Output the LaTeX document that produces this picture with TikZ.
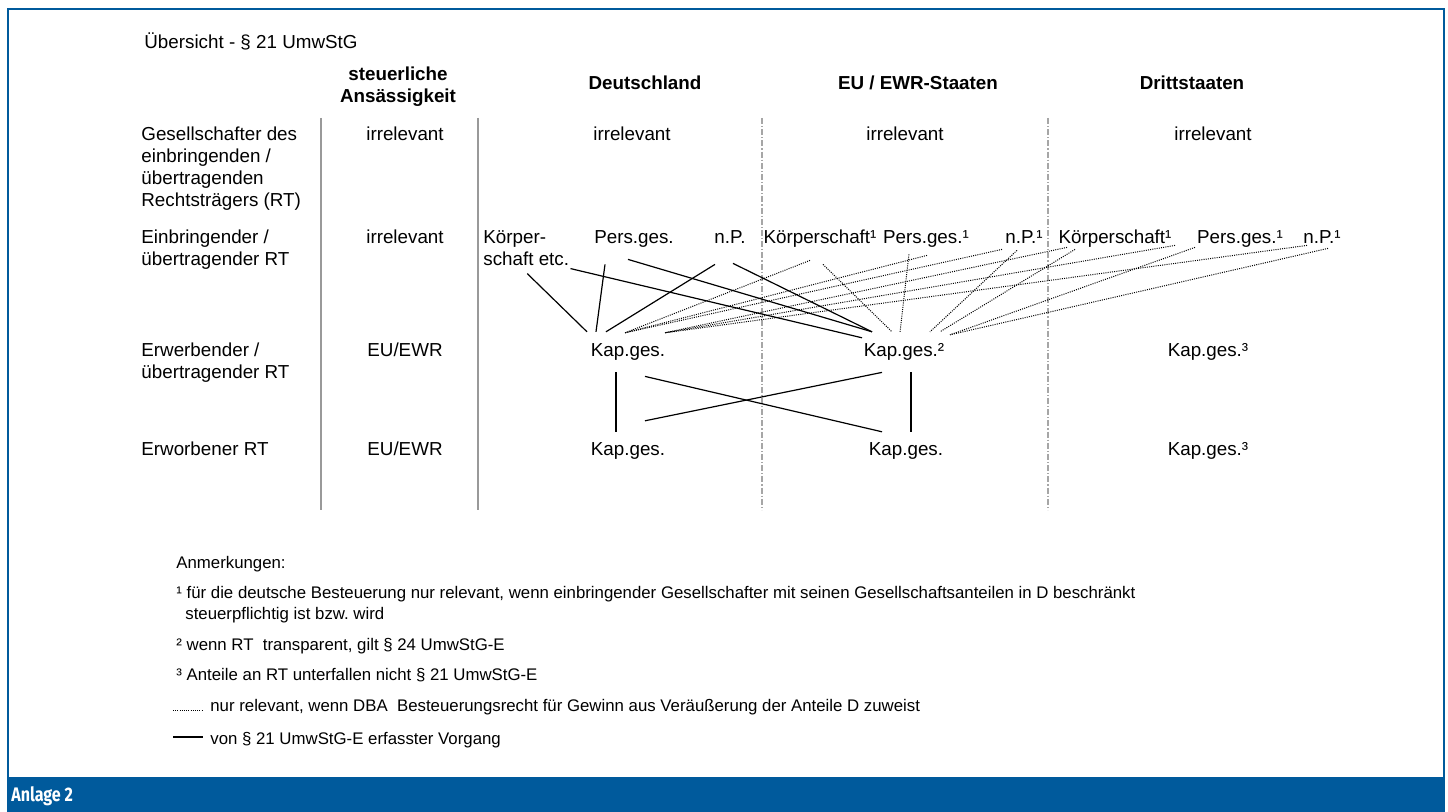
\documentclass[tikz,border=0pt]{standalone}
\usepackage{fontspec}
\setmainfont{Liberation Sans}
\newfontfamily\anlagefont[FakeStretch=0.82]{Fira Sans}
\usetikzlibrary{calc}
\definecolor{anlageblau}{RGB}{0,90,156}
\frenchspacing
\begin{document}
\begin{tikzpicture}[x=0.5pt,y=-0.5pt,font=\fontsize{9.4}{11}\selectfont,
  cell/.style={inner sep=0pt,text height=6.9pt,text depth=2pt,anchor=base},
  zeile/.style={inner sep=0pt,anchor=base west,align=left},
  kopf/.style={inner sep=0pt,anchor=base,align=center,font=\fontsize{9.4}{11}\selectfont\bfseries},
  fuss/.style={inner sep=0pt,anchor=base west,align=left,font=\fontsize{8.4}{10.5}\selectfont},
  erfasst/.style={line width=0.6pt},
  dba/.style={line width=0.5pt,dash pattern=on 0.5pt off 0.6pt},
  trenn/.style={black!40,line width=1pt},
  staat/.style={black!35,line width=0.6pt,dash pattern=on 3pt off 1pt on 0.6pt off 1pt}]
\useasboundingbox (0,0) rectangle (1448,812);
% Rahmen
\fill[anlageblau] (7,777) rectangle (1445,812);
\draw[anlageblau,line width=1pt] (8,812)--(8,9.5)--(1444,9.5)--(1444,812);
\node[inner sep=0pt,anchor=base west,text=white,font=\anlagefont\bfseries\fontsize{9.8}{11}\selectfont] (anlage) at (11,802) {Anlage 2};
% Kopf (mehrzeilige Knoten: base = letzte Zeile)
\node[zeile] (titel) at (144,49) {Übersicht - § 21 UmwStG};
\node[kopf] (sitz) at (398,103) {steuerliche\\Ansässigkeit};
\node[kopf] (de) at (645,90) {Deutschland};
\node[kopf] (eu) at (918,90) {EU / EWR-Staaten};
\node[kopf] (dritt) at (1192,90) {Drittstaaten};
\draw[trenn] (321,118)--(321,510) (478,118)--(478,510);
\draw[staat] (762,118)--(762,510) (1048,118)--(1048,510);
% Gesellschafter
\node[zeile] (gesellschafter) at (141,207) {Gesellschafter des\\einbringenden /\\übertragenden\\Rechtsträgers (RT)};
\node[cell] (irrSitz) at (405,141) {irrelevant};
\node[cell] (irrDE) at (632,141) {irrelevant};
\node[cell] (irrEU) at (905,141) {irrelevant};
\node[cell] (irrDR) at (1213,141) {irrelevant};
% Einbringender
\node[zeile] (einbringender) at (141,266) {Einbringender /\\übertragender RT};
\node[cell] (irrSitzE) at (405,244) {irrelevant};
\node[zeile] (koerpDE) at (483,266) {Körper-\\schaft etc.};
\node[cell] (persDE) at (634,244) {Pers.ges.};
\node[cell] (npDE) at (730,244) {n.P.};
\node[cell] (koerpEU) at (820,244) {Körperschaft¹};
\node[cell] (persEU) at (926,244) {Pers.ges.¹};
\node[cell] (npEU) at (1024,244) {n.P.¹};
\node[cell] (koerpDR) at (1115,244) {Körperschaft¹};
\node[cell] (persDR) at (1240,244) {Pers.ges.¹};
\node[cell] (npDR) at (1322,244) {n.P.¹};
% Erwerbender
\node[zeile] (erwerbender) at (141,379) {Erwerbender /\\übertragender RT};
\node[cell] (sitzErw) at (405,357) {EU/EWR};
\node[cell] (kapDE) at (628,357) {Kap.ges.};
\node[cell] (kapEU) at (904,357) {Kap.ges.²};
\node[cell] (kapDR) at (1208,357) {Kap.ges.³};
% Erworbener
\node[zeile] (erworbener) at (141,456) {Erworbener RT};
\node[cell] (sitzErwo) at (405,456) {EU/EWR};
\node[cell] (kapDEb) at (628,456) {Kap.ges.};
\node[cell] (kapEUb) at (906,456) {Kap.ges.};
\node[cell] (kapDRb) at (1208,456) {Kap.ges.³};
% erfasste Vorgaenge
\draw[erfasst] ($(koerpDE.south)+(1,7)$)--($(kapDE.north)+(-41,-11)$);
\draw[erfasst] ($(koerpDE.south east)+(1,2)$)--($(kapEU.north)+(-42,-5)$);
\draw[erfasst] ($(persDE.south)+(-29,16)$)--($(kapDE.north)+(-32,-11)$);
\draw[erfasst] ($(persDE.south)+(-6,11)$)--($(kapEU.north)+(-32,-11)$);
\draw[erfasst] ($(npDE.south)+(-15,16)$)--($(kapDE.north)+(-22,-11)$);
\draw[erfasst] ($(npDE.south)+(3,15)$)--($(kapEU.north)+(-32,-11)$);
\draw[erfasst] ($(kapDE.south)+(-12,11)$)--($(kapDEb.north)+(-12,-10)$);
\draw[erfasst] ($(kapDE.south)+(17,15)$)--($(kapEUb.north)+(-24,-10)$);
\draw[erfasst] ($(kapEU.south)+(-22,11)$)--($(kapDEb.north)+(17,-21)$);
\draw[erfasst] ($(kapEU.south)+(7,11)$)--($(kapEUb.north)+(5,-10)$);
% nur relevant nach DBA
\draw[dba] ($(koerpEU.south)+(-10,12)$)--($(kapDE.north)+(-3,-10)$);
\draw[dba] ($(koerpEU.south)+(3,16)$)--($(kapEU.north)+(-12,-11)$);
\draw[dba] ($(persEU.south)+(1,7)$)--($(kapDE.north)+(-3,-10)$);
\draw[dba] ($(persEU.south)+(-17,6)$)--($(kapEU.north)+(-4,-11)$);
\draw[dba] ($(npEU.south)+(-22,1)$)--($(kapDE.north)+(-3,-10)$);
\draw[dba] ($(npEU.south)+(-7,2)$)--($(kapEU.north)+(26,-11)$);
\draw[dba] ($(koerpDR.south)+(-48,-1)$)--($(kapDE.north)+(37,-10)$);
\draw[dba] ($(koerpDR.south)+(-40,1)$)--($(kapEU.north)+(36,-11)$);
\draw[dba] ($(persDR.south)+(-65,-3)$)--($(kapDE.north)+(37,-10)$);
\draw[dba] ($(persDR.south)+(-45,-1)$)--($(kapEU.north)+(46,-8)$);
\draw[dba] ($(npDR.south)+(-15,-3)$)--($(kapDE.north)+(37,-10)$);
\draw[dba] ($(npDR.south)+(6,0)$)--($(kapEU.north)+(46,-8)$);
% Anmerkungen
\node[fuss] (anm) at (176,569) {Anmerkungen:};
\node[fuss] (fn1) at (176,620) {¹ für die deutsche Besteuerung nur relevant, wenn einbringender Gesellschafter mit seinen Gesellschaftsanteilen in D beschränkt\\\hspace*{4.5pt}steuerpflichtig ist bzw. wird};
\node[fuss] (fn2) at (176,651) {² wenn RT\ \ transparent, gilt § 24 UmwStG-E};
\node[fuss] (fn3) at (176,681) {³ Anteile an RT unterfallen nicht § 21 UmwStG-E};
\node[fuss] (legDBA) at (210,712) {nur relevant, wenn DBA\ \ Besteuerungsrecht für Gewinn aus Veräußerung der Anteile D zuweist};
\node[fuss] (legErf) at (210,745) {von § 21 UmwStG-E erfasster Vorgang};
\draw[dba] ($(legDBA.base west)+(-37,-1)$)--($(legDBA.base west)+(-7,-1)$);
\draw[erfasst] ($(legErf.base west)+(-37,-8)$)--($(legErf.base west)+(-7,-8)$);
\end{tikzpicture}
\end{document}
